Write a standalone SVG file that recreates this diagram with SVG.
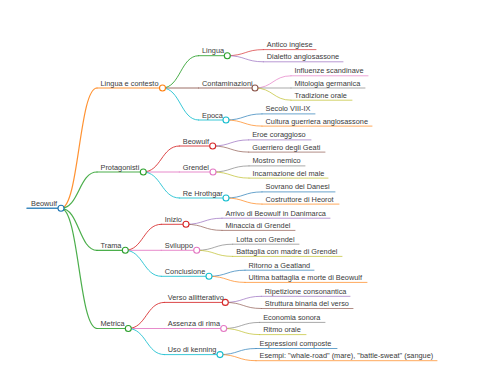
<svg xmlns="http://www.w3.org/2000/svg" width="480" height="384" viewBox="0 0 480 384">
<style>
text{font-family:"Liberation Sans",Arial,sans-serif;font-size:7.35px;fill:#3a3a3a}
path,line{fill:none;stroke-linecap:round;stroke-opacity:0.85}
circle{fill:#fff;stroke-width:1.1}
.d0{stroke-width:1.5}.d1{stroke-width:1.2}.d2{stroke-width:1}.d3{stroke-width:0.8}
.c0{stroke:#1f77b4}.c1{stroke:#ff7f0e}.c2{stroke:#2ca02c}.c3{stroke:#d62728}.c4{stroke:#9467bd}
.c5{stroke:#8c564b}.c6{stroke:#e377c2}.c7{stroke:#7f7f7f}.c8{stroke:#bcbd22}.c9{stroke:#17becf}
</style>
<rect width="480" height="384" fill="#fff"/>
<g id="connectors">
<path class="d1 c1" d="M61,208.3 C79,208.3 79,88 97,88"/>
<path class="d1 c2" d="M61,208.3 C79,208.3 79,172 97,172"/>
<path class="d1 c2" d="M61,208.3 C79,208.3 79,250.3 97,250.3"/>
<path class="d1 c2" d="M61,208.3 C79,208.3 79,328.5 97,328.5"/>
<path class="d2 c2" d="M162.5,88 C180.5,88 180.5,55.7 198.5,55.7"/>
<path class="d2 c5" d="M162.5,88 L198.5,88"/>
<path class="d2 c9" d="M162.5,88 C180.5,88 180.5,120 198.5,120"/>
<path class="d2 c3" d="M143.3,172 C161.3,172 161.3,146 179.3,146"/>
<path class="d2 c6" d="M143.3,172 L179.3,172"/>
<path class="d2 c9" d="M143.3,172 C161.3,172 161.3,198 179.3,198"/>
<path class="d2 c3" d="M125.3,250.3 C143.3,250.3 143.3,224.3 161.3,224.3"/>
<path class="d2 c6" d="M125.3,250.3 L161.3,250.3"/>
<path class="d2 c9" d="M125.3,250.3 C143.3,250.3 143.3,276.3 161.3,276.3"/>
<path class="d2 c3" d="M128.3,328.5 C146.3,328.5 146.3,302.4 164.3,302.4"/>
<path class="d2 c6" d="M128.3,328.5 L164.3,328.5"/>
<path class="d2 c9" d="M128.3,328.5 C146.3,328.5 146.3,354.6 164.3,354.6"/>
<path class="d3 c3" d="M227.3,55.7 C245.3,55.7 245.3,49.6 263.3,49.6"/>
<path class="d3 c4" d="M227.3,55.7 C245.3,55.7 245.3,61.8 263.3,61.8"/>
<path class="d3 c6" d="M255,88 C273,88 273,75.8 291,75.8"/>
<path class="d3 c7" d="M255,88 L291,88"/>
<path class="d3 c8" d="M255,88 C273,88 273,100.2 291,100.2"/>
<path class="d3 c0" d="M226,120 C244,120 244,113.9 262,113.9"/>
<path class="d3 c1" d="M226,120 C244,120 244,126.1 262,126.1"/>
<path class="d3 c4" d="M212.7,146 C230.7,146 230.7,139.9 248.7,139.9"/>
<path class="d3 c5" d="M212.7,146 C230.7,146 230.7,152.1 248.7,152.1"/>
<path class="d3 c7" d="M213,172 C231,172 231,165.9 249,165.9"/>
<path class="d3 c8" d="M213,172 C231,172 231,178.1 249,178.1"/>
<path class="d3 c0" d="M226,198 C244,198 244,191.9 262,191.9"/>
<path class="d3 c1" d="M226,198 C244,198 244,204.1 262,204.1"/>
<path class="d3 c4" d="M186,224.3 C204,224.3 204,218.2 222,218.2"/>
<path class="d3 c5" d="M186,224.3 C204,224.3 204,230.4 222,230.4"/>
<path class="d3 c7" d="M196.7,250.3 C214.7,250.3 214.7,244.2 232.7,244.2"/>
<path class="d3 c8" d="M196.7,250.3 C214.7,250.3 214.7,256.4 232.7,256.4"/>
<path class="d3 c0" d="M209,276.3 C227,276.3 227,270.2 245,270.2"/>
<path class="d3 c1" d="M209,276.3 C227,276.3 227,282.4 245,282.4"/>
<path class="d3 c4" d="M225.3,302.4 C243.3,302.4 243.3,296.3 261.3,296.3"/>
<path class="d3 c5" d="M225.3,302.4 C243.3,302.4 243.3,308.5 261.3,308.5"/>
<path class="d3 c7" d="M223.7,328.5 C241.7,328.5 241.7,322.4 259.7,322.4"/>
<path class="d3 c8" d="M223.7,328.5 C241.7,328.5 241.7,334.6 259.7,334.6"/>
<path class="d3 c0" d="M220,354.6 C238,354.6 238,348.5 256,348.5"/>
<path class="d3 c1" d="M220,354.6 C238,354.6 238,360.7 256,360.7"/>
</g>
<g id="root"><line class="d0 c0" x1="27" y1="208.3" x2="61" y2="208.3"/><circle class="c0" cx="61" cy="208.3" r="3"/><text x="31" y="205.8">Beowulf</text></g>
<g id="n1"><line class="d1 c1" x1="97" y1="88" x2="162.5" y2="88"/><circle class="c1" cx="162.5" cy="88" r="3"/><text x="100.5" y="85.5">Lingua e contesto</text></g>
<g id="n2"><line class="d1 c2" x1="97" y1="172" x2="143.3" y2="172"/><circle class="c2" cx="143.3" cy="172" r="3"/><text x="100.5" y="169.5">Protagonisti</text></g>
<g id="n3"><line class="d1 c2" x1="97" y1="250.3" x2="125.3" y2="250.3"/><circle class="c2" cx="125.3" cy="250.3" r="3"/><text x="100.5" y="247.8">Trama</text></g>
<g id="n4"><line class="d1 c2" x1="97" y1="328.5" x2="128.3" y2="328.5"/><circle class="c2" cx="128.3" cy="328.5" r="3"/><text x="100.5" y="326">Metrica</text></g>
<g id="n1a"><line class="d2 c2" x1="198.5" y1="55.7" x2="227.3" y2="55.7"/><circle class="c2" cx="227.3" cy="55.7" r="3"/><text x="202" y="53.2">Lingua</text></g>
<g id="n1b"><line class="d2 c5" x1="198.5" y1="88" x2="255" y2="88"/><circle class="c5" cx="255" cy="88" r="3"/><text x="202" y="85.5">Contaminazioni</text></g>
<g id="n1c"><line class="d2 c9" x1="198.5" y1="120" x2="226" y2="120"/><circle class="c9" cx="226" cy="120" r="3"/><text x="202" y="117.5">Epoca</text></g>
<g id="n2a"><line class="d2 c3" x1="179.3" y1="146" x2="212.7" y2="146"/><circle class="c3" cx="212.7" cy="146" r="3"/><text x="182.8" y="143.5">Beowulf</text></g>
<g id="n2b"><line class="d2 c6" x1="179.3" y1="172" x2="213" y2="172"/><circle class="c6" cx="213" cy="172" r="3"/><text x="182.8" y="169.5">Grendel</text></g>
<g id="n2c"><line class="d2 c9" x1="179.3" y1="198" x2="226" y2="198"/><circle class="c9" cx="226" cy="198" r="3"/><text x="182.8" y="195.5">Re Hrothgar</text></g>
<g id="n3a"><line class="d2 c3" x1="161.3" y1="224.3" x2="186" y2="224.3"/><circle class="c3" cx="186" cy="224.3" r="3"/><text x="164.8" y="221.8">Inizio</text></g>
<g id="n3b"><line class="d2 c6" x1="161.3" y1="250.3" x2="196.7" y2="250.3"/><circle class="c6" cx="196.7" cy="250.3" r="3"/><text x="164.8" y="247.8">Sviluppo</text></g>
<g id="n3c"><line class="d2 c9" x1="161.3" y1="276.3" x2="209" y2="276.3"/><circle class="c9" cx="209" cy="276.3" r="3"/><text x="164.8" y="273.8">Conclusione</text></g>
<g id="n4a"><line class="d2 c3" x1="164.3" y1="302.4" x2="225.3" y2="302.4"/><circle class="c3" cx="225.3" cy="302.4" r="3"/><text x="167.8" y="299.9">Verso allitterativo</text></g>
<g id="n4b"><line class="d2 c6" x1="164.3" y1="328.5" x2="223.7" y2="328.5"/><circle class="c6" cx="223.7" cy="328.5" r="3"/><text x="167.8" y="326">Assenza di rima</text></g>
<g id="n4c"><line class="d2 c9" x1="164.3" y1="354.6" x2="220" y2="354.6"/><circle class="c9" cx="220" cy="354.6" r="3"/><text x="167.8" y="352.1">Uso di kenning</text></g>
<g id="l1"><line class="d3 c3" x1="263.3" y1="49.6" x2="316" y2="49.6"/><text x="266.8" y="47.1">Antico inglese</text></g>
<g id="l2"><line class="d3 c4" x1="263.3" y1="61.8" x2="343" y2="61.8"/><text x="266.8" y="59.3">Dialetto anglosassone</text></g>
<g id="l3"><line class="d3 c6" x1="291" y1="75.8" x2="368" y2="75.8"/><text x="294.5" y="73.3">Influenze scandinave</text></g>
<g id="l4"><line class="d3 c7" x1="291" y1="88" x2="365" y2="88"/><text x="294.5" y="85.5">Mitologia germanica</text></g>
<g id="l5"><line class="d3 c8" x1="291" y1="100.2" x2="352" y2="100.2"/><text x="294.5" y="97.7">Tradizione orale</text></g>
<g id="l6"><line class="d3 c0" x1="262" y1="113.9" x2="315" y2="113.9"/><text x="265.5" y="111.4">Secolo VIII-IX</text></g>
<g id="l7"><line class="d3 c1" x1="262" y1="126.1" x2="372" y2="126.1"/><text x="265.5" y="123.6">Cultura guerriera anglosassone</text></g>
<g id="l8"><line class="d3 c4" x1="248.7" y1="139.9" x2="311" y2="139.9"/><text x="252.2" y="137.4">Eroe coraggioso</text></g>
<g id="l9"><line class="d3 c5" x1="248.7" y1="152.1" x2="325" y2="152.1"/><text x="252.2" y="149.6">Guerriero degli Geati</text></g>
<g id="l10"><line class="d3 c7" x1="249" y1="165.9" x2="305" y2="165.9"/><text x="252.5" y="163.4">Mostro nemico</text></g>
<g id="l11"><line class="d3 c8" x1="249" y1="178.1" x2="328" y2="178.1"/><text x="252.5" y="175.6">Incarnazione del male</text></g>
<g id="l12"><line class="d3 c0" x1="262" y1="191.9" x2="335" y2="191.9"/><text x="265.5" y="189.4">Sovrano dei Danesi</text></g>
<g id="l13"><line class="d3 c1" x1="262" y1="204.1" x2="339" y2="204.1"/><text x="265.5" y="201.6">Costruttore di Heorot</text></g>
<g id="l14"><line class="d3 c4" x1="222" y1="218.2" x2="330" y2="218.2"/><text x="225.5" y="215.7">Arrivo di Beowulf in Danimarca</text></g>
<g id="l15"><line class="d3 c5" x1="222" y1="230.4" x2="295" y2="230.4"/><text x="225.5" y="227.9">Minaccia di Grendel</text></g>
<g id="l16"><line class="d3 c7" x1="232.7" y1="244.2" x2="299" y2="244.2"/><text x="236.2" y="241.7">Lotta con Grendel</text></g>
<g id="l17"><line class="d3 c8" x1="232.7" y1="256.4" x2="342" y2="256.4"/><text x="236.2" y="253.9">Battaglia con madre di Grendel</text></g>
<g id="l18"><line class="d3 c0" x1="245" y1="270.2" x2="314" y2="270.2"/><text x="248.5" y="267.7">Ritorno a Geatland</text></g>
<g id="l19"><line class="d3 c1" x1="245" y1="282.4" x2="367" y2="282.4"/><text x="248.5" y="279.9">Ultima battaglia e morte di Beowulf</text></g>
<g id="l20"><line class="d3 c4" x1="261.3" y1="296.3" x2="350" y2="296.3"/><text x="264.8" y="293.8">Ripetizione consonantica</text></g>
<g id="l21"><line class="d3 c5" x1="261.3" y1="308.5" x2="353" y2="308.5"/><text x="264.8" y="306">Struttura binaria del verso</text></g>
<g id="l22"><line class="d3 c7" x1="259.7" y1="322.4" x2="325" y2="322.4"/><text x="263.2" y="319.9">Economia sonora</text></g>
<g id="l23"><line class="d3 c8" x1="259.7" y1="334.6" x2="306" y2="334.6"/><text x="263.2" y="332.1">Ritmo orale</text></g>
<g id="l24"><line class="d3 c0" x1="256" y1="348.5" x2="337" y2="348.5"/><text x="259.5" y="346">Espressioni composte</text></g>
<g id="l25"><line class="d3 c1" x1="256" y1="360.7" x2="437" y2="360.7"/><text x="259.5" y="358.2">Esempi: "whale-road" (mare), "battle-sweat" (sangue)</text></g>
</svg>
